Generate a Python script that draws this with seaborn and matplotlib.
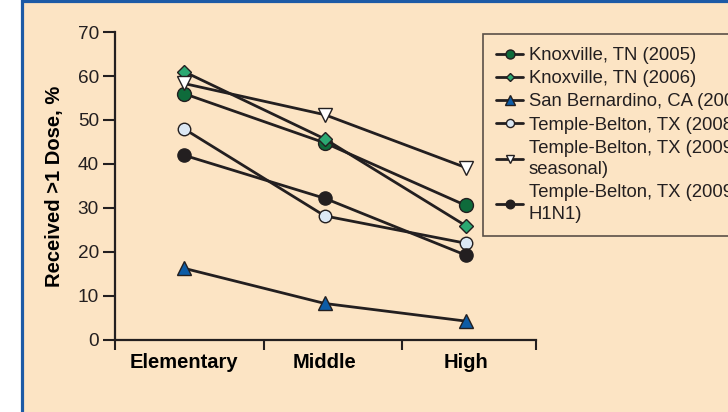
import matplotlib
matplotlib.use("Agg")
import matplotlib.pyplot as plt
from matplotlib.patches import Rectangle
import pandas as pd
import seaborn as sns

# --- data ---
levels = ["Elementary", "Middle", "High"]
sites = [
    "Knoxville, TN (2005)",
    "Knoxville, TN (2006)",
    "San Bernardino, CA (2007)",
    "Temple-Belton, TX (2008)",
    "Temple-Belton, TX (2009,\nseasonal)",
    "Temple-Belton, TX (2009,\nH1N1)",
]
knox_2005 = [56, 44.8, 30.6]
knox_2006 = [61, 45.7, 26]
san_bern_2007 = [16.3, 8.3, 4.3]
temple_2008 = [48, 28.2, 22]
temple_2009_seasonal = [58.3, 51.2, 39.2]
temple_2009_h1n1 = [42, 32.2, 19.3]
values = [knox_2005, knox_2006, san_bern_2007, temple_2008,
          temple_2009_seasonal, temple_2009_h1n1]

df = pd.DataFrame(
    [(s, lv, v) for s, vals in zip(sites, values) for lv, v in zip(levels, vals)],
    columns=["site", "level", "pct"],
)

# marker style per series
styles = {
    sites[0]: ("o", "#0E6B3B", 10),
    sites[1]: ("D", "#2BA872", 7),
    sites[2]: ("^", "#0D5CA6", 10.5),
    sites[3]: ("o", "#DCE8F4", 9),
    sites[4]: ("v", "#FFFFFF", 9.5),
    sites[5]: ("o", "#231F20", 9.5),
}

INK = "#231F20"
PEACH = "#FCE4C4"
BLUE = "#1C5AA6"

sns.set_style("ticks")
plt.rcParams["font.family"] = ["Liberation Sans", "DejaVu Sans"]

fig = plt.figure(figsize=(7.28, 4.12), dpi=100, facecolor="white")
fig.patches.append(Rectangle((21.5 / 728, -0.2), 1.3, 1.2 - 1 / 412,
                             transform=fig.transFigure, facecolor=PEACH,
                             edgecolor=BLUE, linewidth=2.3, zorder=-10))

ax = fig.add_axes([115 / 728, 1 - 340 / 412, 421 / 728, 308 / 412])
ax.set_facecolor("none")

for s in sites:
    mk, col, ms = styles[s]
    sns.lineplot(data=df[df["site"] == s], x="level", y="pct", sort=False,
                 ax=ax, color=INK, linewidth=2.0, marker=mk, markersize=ms,
                 markerfacecolor=col, markeredgecolor=INK, markeredgewidth=1.0,
                 label=s)

ax.set_ylim(0, 70)
ax.set_yticks(range(0, 71, 10))
ax.set_xlim(-0.49, 2.5)
ax.set_xticks([-0.49, 0.57, 1.55, 2.5])
ax.set_xticklabels([])
ax.set_xticks([0, 1, 2], minor=True)
ax.set_xticklabels(levels, minor=True, fontsize=14.5, fontweight="bold", color="black")
ax.tick_params(axis="x", which="major", length=7, width=1.5, color=INK)
ax.tick_params(axis="x", which="minor", length=0, pad=9)
ax.tick_params(axis="y", length=8.5, width=1.5, color=INK, labelsize=13.7,
               labelcolor=INK, pad=3)

for side in ["top", "right"]:
    ax.spines[side].set_visible(False)
for side in ["left", "bottom"]:
    ax.spines[side].set_linewidth(1.6)
    ax.spines[side].set_color(INK)

ax.set_xlabel("")
ax.set_ylabel("Received >1 Dose, %", fontsize=14.5, fontweight="bold", color="black")
ax.yaxis.set_label_coords(-0.12, 0.5)

# legend runs off the right edge, as in the original
handles, labels = ax.get_legend_handles_labels()
leg = ax.legend(handles, labels, loc="upper left",
                bbox_to_anchor=(483 / 728, 1 - 34 / 412),
                bbox_transform=fig.transFigure, borderaxespad=0,
                fontsize=13.3, frameon=True, fancybox=False, framealpha=1,
                facecolor=PEACH, edgecolor="#5A5048", markerscale=0.65,
                handlelength=1.45, handletextpad=0.3, labelspacing=0.33,
                borderpad=0.72)
leg.get_frame().set_linewidth(1.2)
for t in leg.get_texts():
    t.set_color(INK)
    t.set_linespacing(1.36)

fig.savefig("out.png", dpi=100, facecolor=fig.get_facecolor())
